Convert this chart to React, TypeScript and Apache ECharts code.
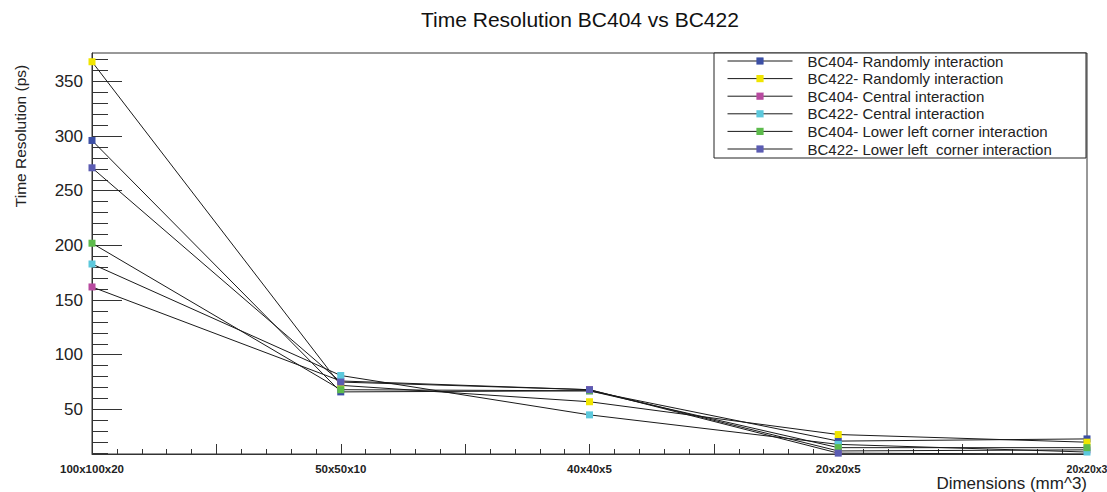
import React, { useEffect, useRef } from "react";
import * as echarts from "echarts";

const categories = ["100x100x20", "50x50x10", "40x40x5", "20x20x5", "20x20x3"];
const seriesNames = [
  "BC404- Randomly interaction",
  "BC422- Randomly interaction",
  "BC404- Central interaction",
  "BC422- Central interaction",
  "BC404- Lower left corner interaction",
  "BC422- Lower left  corner interaction",
];
const bc404Random = [296, 66, 67, 21, 23];
const bc422Random = [368, 72, 57, 27, 20];
const bc404Central = [162, 76, 68, 12, 13];
const bc422Central = [183, 81, 45, 18, 11];
const bc404Lower = [202, 68, 67, 15, 15];
const bc422Lower = [271, 75, 68, 10, 9];
const seriesValues = [bc404Random, bc422Random, bc404Central, bc422Central, bc404Lower, bc422Lower];
const colors = ["#3c4fa5", "#f0e500", "#b84aa0", "#5cc8dc", "#5dbb4c", "#5b5cb2"];
const yMajorTicks = [50, 100, 150, 200, 250, 300, 350];
const yMinorTicks = [10, 20, 30, 40, 60, 70, 80, 90, 110, 120, 130, 140, 160, 170, 180, 190, 210, 220, 230, 240, 260, 270, 280, 290, 310, 320, 330, 340, 360, 370];
const xTitle = "Dimensions (mm^3)";
const yTitle = "Time Resolution (ps)";

const FONT = "Liberation Sans, Arial, Helvetica, sans-serif";

export default function App() {
  const ref = useRef<HTMLDivElement>(null);
  useEffect(() => {
    if (!ref.current) return;
    const chart = echarts.init(ref.current, undefined, { renderer: "svg" });
    const series = seriesNames.map((name, i) => ({
      name,
      type: "line",
      data: seriesValues[i].map((v, j) => [j, v]),
      symbol: "rect",
      symbolSize: 7,
      showSymbol: true,
      lineStyle: { color: "#1a1a1a", width: 1 },
      itemStyle: { color: colors[i] },
      z: 3,
    }));
    chart.setOption({
      animation: false,
      backgroundColor: "#ffffff",
      textStyle: { fontFamily: FONT },
      title: {
        text: "Time Resolution BC404 vs BC422",
        left: 416,
        top: 4,
        textStyle: { fontSize: 21, fontWeight: "normal", color: "#111", fontFamily: FONT },
      },
      grid: {
        left: 92,
        right: 20,
        top: 53,
        bottom: 38,
        containLabel: false,
        outerBoundsMode: "none",
        show: true,
        borderColor: "#333",
        borderWidth: 1,
        backgroundColor: "transparent",
      },
      legend: {
        orient: "vertical",
        left: 727,
        top: 53.5,
        padding: 0,
        itemWidth: 65,
        itemHeight: 9,
        itemGap: 2.6,
        data: seriesNames,
        lineStyle: { width: 1, color: "#1a1a1a" },
        textStyle: { fontSize: 15, color: "#222", fontFamily: FONT, padding: [0, 0, 0, 10] },
        z: 10,
      },
      graphic: [
        {
          type: "rect",
          shape: { x: 714, y: 53, width: 372, height: 105 },
          style: { fill: "#ffffff", stroke: "#222", lineWidth: 1 },
          z: 5,
        },
        {
          type: "text",
          x: 20,
          y: 136,
          rotation: Math.PI / 2,
          style: {
            text: yTitle,
            fontSize: 15.5,
            fill: "#222",
            fontFamily: FONT,
            align: "center",
            verticalAlign: "middle",
          },
        },
        {
          type: "text",
          x: 1087,
          y: 483,
          style: {
            text: xTitle,
            fontSize: 17,
            fill: "#222",
            fontFamily: FONT,
            align: "right",
            verticalAlign: "middle",
          },
        },
      ],
      xAxis: {
        type: "value",
        min: 0,
        max: 4,
        interval: 0.5,
        axisLine: { lineStyle: { color: "#333", width: 1 } },
        axisTick: { inside: true, length: 10, lineStyle: { color: "#333" } },
        minorTick: { show: true, splitNumber: 5, length: 5, lineStyle: { color: "#333" } },
        splitLine: { show: false },
        axisLabel: {
          fontSize: 11.5,
          fontWeight: "bold",
          color: "#222",
          margin: 9,
          fontFamily: FONT,
          formatter: (v: number) => {
            if (!Number.isInteger(v)) return "";
            return v === categories.length - 1 ? `{last|${categories[v]}}` : categories[v];
          },
          rich: {
            last: { fontSize: 10.5, fontWeight: "bold", color: "#222", fontFamily: FONT },
          },
        },
      },
      yAxis: [
        {
          type: "value",
          min: 9.2,
          max: 376,
          position: "left",
          axisLine: { show: true, lineStyle: { color: "#333", width: 1 } },
          axisTick: { show: true, inside: true, length: 30, customValues: yMajorTicks, lineStyle: { color: "#333" } },
          axisLabel: { fontSize: 17, color: "#222", margin: 9, customValues: yMajorTicks, fontFamily: FONT },
          splitLine: { show: false },
        },
        {
          type: "value",
          min: 9.2,
          max: 376,
          position: "left",
          axisLine: { show: false },
          axisTick: { show: true, inside: true, length: 16, customValues: yMinorTicks, lineStyle: { color: "#333" } },
          axisLabel: { show: false },
          splitLine: { show: false },
        },
      ],
      series,
    });
    return () => chart.dispose();
  }, []);
  return (
    <div
      ref={ref}
      style={{ position: "fixed", left: 0, top: 0, width: 1107, height: 492, background: "#fff" }}
    />
  );
}
